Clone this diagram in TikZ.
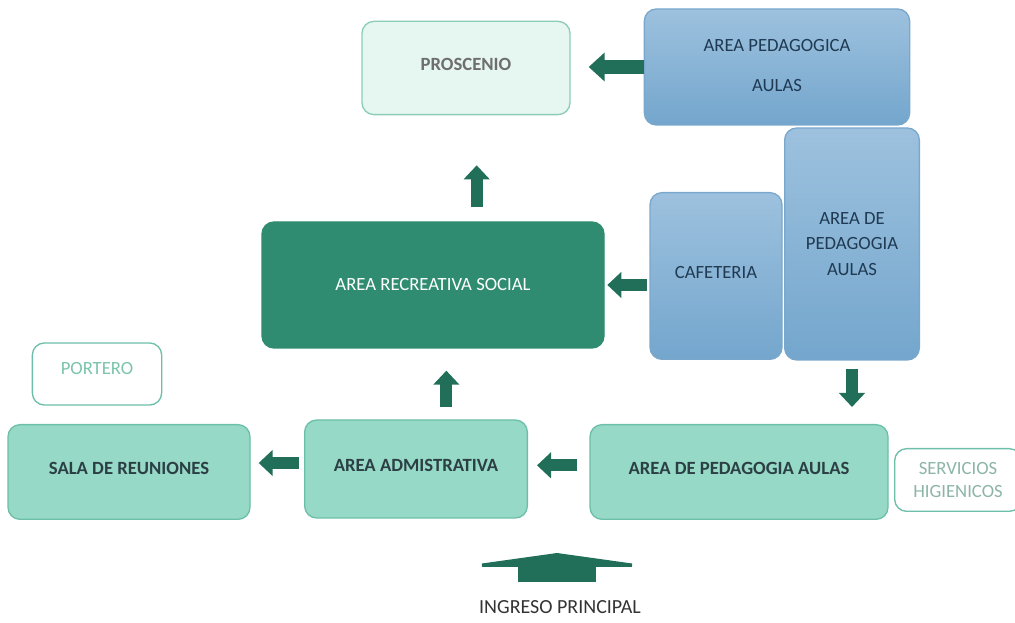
\documentclass[tikz,border=0pt]{standalone}
\usepackage{fontspec}
\setmainfont{Carlito}
\usetikzlibrary{arrows.meta}
\definecolor{mint}{HTML}{96D9C6}
\definecolor{mintline}{HTML}{6CBFA8}
\definecolor{boxtext}{HTML}{2B3F45}
\definecolor{prosfill}{HTML}{E6F6F0}
\definecolor{prosline}{HTML}{8CCDB8}
\definecolor{prostext}{HTML}{6E6E6E}
\definecolor{bluetop}{HTML}{9DC1DE}
\definecolor{bluebot}{HTML}{74A6CD}
\definecolor{blueline}{HTML}{7AA8CC}
\definecolor{bluetext}{HTML}{1F3A52}
\definecolor{recfill}{HTML}{2F8C70}
\definecolor{arrowgreen}{HTML}{216F58}
\definecolor{portext}{HTML}{7CC4AB}
\definecolor{sertext}{HTML}{8DB5A6}
\definecolor{ingtext}{HTML}{333333}

\begin{document}
\begin{tikzpicture}[x=0.75pt,y=-0.75pt,
  box/.style={rounded corners=9pt, draw, line width=1pt, align=center,
    font=\fontsize{14}{17}\selectfont},
  mintbox/.style={box, fill=mint, draw=mintline, text=boxtext,
    font=\bfseries\fontsize{14}{17}\selectfont},
  bluebox/.style={box, top color=bluetop, bottom color=bluebot, draw=blueline, text=bluetext},
  blockarrow/.style={draw=arrowgreen, line width=9pt, -{Triangle[length=10.5pt,width=19pt]}}]
  \useasboundingbox (0,0) rectangle (1015,623);

  % upper row
  \node[mintbox, fill=prosfill, draw=prosline, text=prostext,
    minimum width=156pt, minimum height=70pt] (pros) at (466,68) {\raisebox{6pt}{PROSCENIO}};
  \node[bluebox, minimum width=199pt, minimum height=87pt,
    font=\fontsize{14}{30}\selectfont] (ped) at (777,67) {\raisebox{3pt}{AREA PEDAGOGICA}\\\raisebox{3pt}{AULAS}};

  % middle row
  \node[box, fill=recfill, draw=recfill, text=white,
    minimum width=256.5pt, minimum height=94.5pt] (rec) at (433,285) {AREA RECREATIVA SOCIAL};
  \node[bluebox, minimum width=99pt, minimum height=125pt] (caf) at (716,276) {\raisebox{6pt}{CAFETERIA}};
  \node[bluebox, minimum width=101pt, minimum height=174pt,
    font=\fontsize{14}{19}\selectfont] (tall) at (852,244) {AREA DE\\PEDAGOGIA\\AULAS};

  % lower row
  \node[box, fill=white, draw=mintline, text=portext,
    minimum width=97pt, minimum height=46.5pt] (port) at (97,374) {\raisebox{8pt}{PORTERO}};
  \node[mintbox, minimum width=181.5pt, minimum height=71pt] (sala) at (129,472) {\raisebox{5pt}{SALA DE REUNIONES}};
  \node[mintbox, minimum width=167pt, minimum height=73.5pt] (adm) at (416,469) {\raisebox{5pt}{AREA ADMISTRATIVA}};
  \node[mintbox, minimum width=223.5pt, minimum height=71pt] (pedb) at (739,472) {\raisebox{5pt}{AREA DE PEDAGOGIA AULAS}};
  \node[box, fill=white, draw=mintline, text=sertext,
    minimum width=95pt, minimum height=47pt] (serv) at (958,480) {SERVICIOS\\HIGIENICOS};

  \node[text=ingtext, font=\fontsize{15}{18}\selectfont] (ing) at (560,607) {INGRESO PRINCIPAL};
  \coordinate (ingtip) at (557,553);

  % arrows
  \draw[blockarrow, line width=10.5pt, -{Triangle[length=12pt,width=21pt]}, shorten >=13.5pt]
    (ped.west) -- (pros.east |- ped.west);
  \draw[blockarrow, shorten <=10.5pt, shorten >=37.5pt]
    ([xshift=8pt]pros.south |- rec.north) -- ([xshift=8pt]pros.south);
  \draw[blockarrow, shorten <=1.5pt, shorten >=2pt] (caf.west |- rec.east) -- (rec.east);
  \draw[blockarrow, shorten <=6pt, shorten >=12.75pt] (tall.south) -- (tall.south |- pedb.north);
  \draw[blockarrow, shorten <=9pt, shorten >=16.5pt]
    ([xshift=10pt]rec.south |- adm.north) -- ([xshift=10pt]rec.south);
  \draw[blockarrow, shorten <=3.75pt, shorten >=6pt]
    ([yshift=4.5pt]adm.west) -- ([yshift=4.5pt]adm.west -| sala.east);
  \draw[blockarrow, shorten <=9pt, shorten >=6.75pt]
    ([yshift=5pt]pedb.west) -- ([yshift=5pt]pedb.west -| adm.east);
  \draw[draw=arrowgreen, line width=58.5pt, -{Triangle[length=10.5pt,width=150pt]}, shorten <=10pt]
    (ing.north -| ingtip) -- (ingtip);
\end{tikzpicture}
\end{document}
